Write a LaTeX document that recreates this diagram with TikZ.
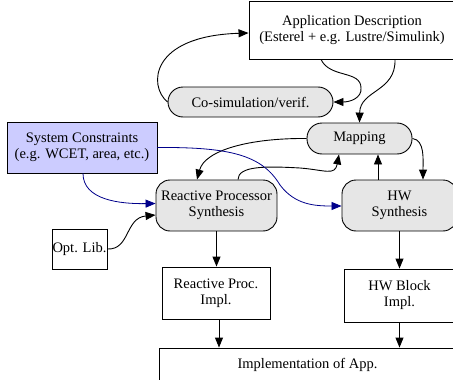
\documentclass[tikz,border=0pt]{standalone}
\usepackage{fontspec}
\setmainfont{Liberation Serif}
\usetikzlibrary{arrows.meta}
\definecolor{boxgray}{HTML}{E6E6E6}
\definecolor{lav}{HTML}{CCCCFF}
\definecolor{navyedge}{HTML}{00008B}
\tikzset{
  base/.style={draw=black, line width=0.9pt, inner sep=0pt, align=center, font=\fontsize{14.5}{16}\selectfont},
  plain/.style={base, fill=white},
  pill/.style={base, fill=boxgray, rounded corners=15pt},
  rbox/.style={base, fill=boxgray, rounded corners=14pt},
  cons/.style={base, fill=lav},
  edge/.style={draw=black, line width=0.9pt, -{Triangle[length=10pt,width=8pt]}},
  bedge/.style={edge, draw=navyedge, -{Triangle[length=10pt,width=8pt,fill=navyedge]}, line width=0.8pt},
}
\begin{document}
\begin{tikzpicture}[x=1pt,y=-1pt]
\useasboundingbox (0,0) rectangle (453,380);
\clip (0,0) rectangle (453,380);
\node[plain, minimum width=206pt, minimum height=58pt] (app) at (352,30) {Application Description\\(Esterel + e.g. Lustre/Simulink)};
\node[pill, minimum width=165pt, minimum height=30pt] (cosim) at (250.5,102) {Co-simulation/verif.};
\node[pill, minimum width=105pt, minimum height=31pt] (map) at (359.5,138.5) {Mapping};
\node[cons, minimum width=150pt, minimum height=51pt] (sys) at (82,147.5) {System Constraints\\(e.g. WCET, area, etc.)};
\node[rbox, minimum width=121pt, minimum height=51pt] (rps) at (216.5,205.5) {Reactive Processor\\Synthesis};
\node[rbox, minimum width=115pt, minimum height=51pt] (hws) at (399.5,205.5) {HW\\Synthesis};
\node[plain, minimum width=55pt, minimum height=40pt] (opt) at (79.5,249) {Opt. Lib.};
\node[plain, minimum width=108pt, minimum height=52pt] (rpi) at (216,293) {Reactive Proc.\\Impl.};
\node[plain, minimum width=111pt, minimum height=53pt] (hwi) at (399.5,295.5) {HW Block\\Impl.};
\node[plain, minimum width=297pt, minimum height=34pt] (impl) at (307.5,365) {Implementation of App.};

% edges
\draw[edge] ([xshift=-31pt]app.south) .. controls ([xshift=-22pt,yshift=-19pt]app.south) and (361,70) .. (361,88) .. controls (362,98) and (350,102) .. (cosim.east);
\draw[edge] ([xshift=43pt]app.south) .. controls (396,92) and (360,90) .. (map.north);
\draw[edge] (cosim.west) .. controls (148,86) and (150,36) .. ([yshift=-3pt]app.west);
\draw[edge] (map.west) .. controls (250,138) and (205,150) .. ([xshift=-19.5pt]rps.north);
\draw[edge] ([xshift=21.5pt]rps.north) .. controls (238,166) and (265,166) .. (300,168) .. controls (325,170) and (335,176) .. ([xshift=-20.5pt]map.south);
\draw[edge] ([xshift=-21.5pt]hws.north) -- ([xshift=-21.5pt]hws.north |- map.south);
\draw[edge] (map.east) .. controls (425,140) and (423,160) .. ([xshift=23.5pt]hws.north);
\draw[bedge] ([xshift=1pt]sys.south) .. controls (83,200) and (120,204) .. ([yshift=2pt]rps.west);
\draw[bedge] (sys.east) .. controls (230,147) and (262,155) .. (280,185) .. controls (295,205) and (315,206) .. ([yshift=-0.5pt]hws.west);
\draw[edge] (opt.east) .. controls (130,250) and (125,218) .. ([yshift=-9.5pt]rps.west);
\draw[edge] (rps.south) -- (rps.south |- rpi.north);
\draw[edge] (hws.south) -- (hws.south |- hwi.north);
\draw[edge] ([xshift=3pt]rpi.south) -- ([xshift=3pt]rpi.south |- impl.north);
\draw[edge] (hwi.south) -- (hwi.south |- impl.north);
\end{tikzpicture}
\end{document}
